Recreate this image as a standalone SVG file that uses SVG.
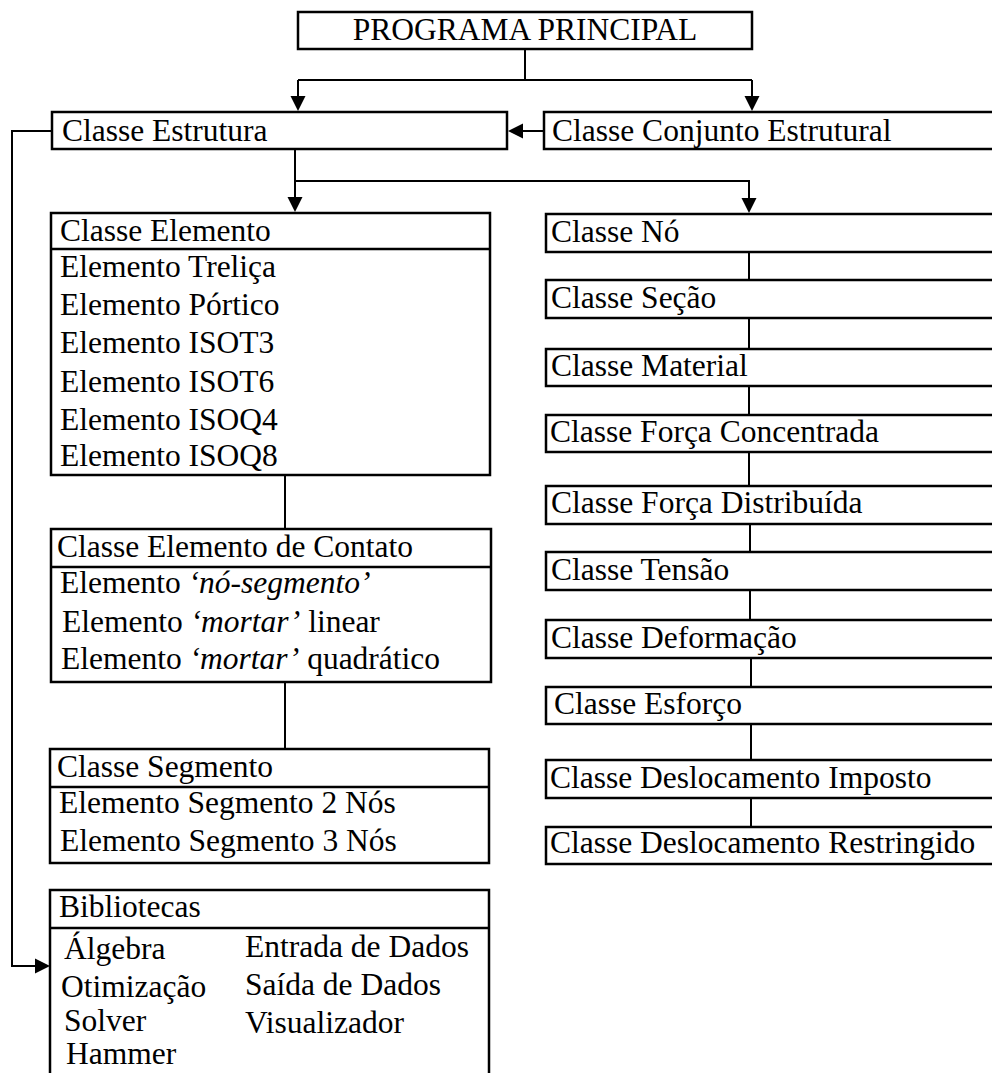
<svg xmlns="http://www.w3.org/2000/svg" width="992" height="1073" viewBox="0 0 992 1073">
<style>
.box{fill:#fff;stroke:#000;stroke-width:2.5}
.div{stroke:#000;stroke-width:2.5}
.ln{fill:none;stroke:#000;stroke-width:2}
.ah{fill:#000;stroke:none}
text{font-family:"Liberation Serif","Times New Roman",serif;font-size:31.5px;fill:#000}
.it{font-style:italic}
</style>
<defs>
<path id="ahd" class="ah" d="M-7.5,-15 L7.5,-15 L0,0 Z"/>
</defs>
<rect width="992" height="1073" fill="#fff"/>
<g id="connectors">
<path class="ln" d="M525,49 V80"/>
<path class="ln" d="M298,80 H752"/>
<path class="ln" d="M298,80 V100"/>
<use href="#ahd" transform="translate(298,111)"/>
<path class="ln" d="M752,80 V100"/>
<use href="#ahd" transform="translate(752,111)"/>
<path class="ln" d="M544,131 H520"/>
<use href="#ahd" transform="translate(508,131) rotate(90)"/>
<path class="ln" d="M52,131 H12 V966 H38"/>
<use href="#ahd" transform="translate(50,966) rotate(-90)"/>
<path class="ln" d="M295,149 V200"/>
<use href="#ahd" transform="translate(295,212)"/>
<path class="ln" d="M295,181 H749 V200"/>
<use href="#ahd" transform="translate(749,213)"/>
<path class="ln" d="M285,475 V529"/>
<path class="ln" d="M285,682 V749"/>
<path class="ln" d="M749,252 V280 M749,318 V349 M749,386 V415 M749,452 V486 M750,524 V552 M750,590 V620 M751,658 V687 M751,724 V760 M751,798 V827"/>
</g>
<g id="programa"><rect class="box" x="298" y="12" width="454" height="37"/><text x="525" y="40" text-anchor="middle">PROGRAMA PRINCIPAL</text></g>
<g id="estrutura"><rect class="box" x="52" y="112" width="455" height="37"/><text x="62" y="141">Classe Estrutura</text></g>
<g id="conjunto"><rect class="box" x="544" y="112" width="460" height="37"/><text x="552" y="141">Classe Conjunto Estrutural</text></g>
<g id="elemento">
<rect class="box" x="51" y="213" width="439" height="262"/><line class="div" x1="51" y1="249" x2="490" y2="249"/>
<text x="60" y="241">Classe Elemento</text>
<text x="60" y="277">Elemento Treliça</text>
<text x="60" y="315">Elemento Pórtico</text>
<text x="60" y="353">Elemento ISOT3</text>
<text x="60" y="392">Elemento ISOT6</text>
<text x="60" y="430">Elemento ISOQ4</text>
<text x="60" y="466">Elemento ISOQ8</text>
</g>
<g id="contato">
<rect class="box" x="51" y="529" width="440" height="153"/><line class="div" x1="51" y1="567" x2="491" y2="567"/>
<text x="57" y="557">Classe Elemento de Contato</text>
<text x="60" y="593">Elemento <tspan class="it">‘nó-segmento’</tspan></text>
<text x="62" y="632">Elemento <tspan class="it">‘mortar’</tspan> linear</text>
<text x="61" y="669">Elemento <tspan class="it">‘mortar’</tspan> quadrático</text>
</g>
<g id="segmento">
<rect class="box" x="50" y="749" width="439" height="114"/><line class="div" x1="50" y1="787" x2="489" y2="787"/>
<text x="57" y="777">Classe Segmento</text>
<text x="59" y="813">Elemento Segmento 2 Nós</text>
<text x="60" y="851">Elemento Segmento 3 Nós</text>
</g>
<g id="bibliotecas">
<rect class="box" x="50" y="890" width="439" height="200"/><line class="div" x1="50" y1="928" x2="489" y2="928"/>
<text x="59" y="917">Bibliotecas</text>
<text x="64" y="959">Álgebra</text>
<text x="61" y="997">Otimização</text>
<text x="64" y="1031">Solver</text>
<text x="66" y="1064">Hammer</text>
<text x="245" y="957">Entrada de Dados</text>
<text x="245" y="995">Saída de Dados</text>
<text x="245" y="1033">Visualizador</text>
</g>
<g id="no"><rect class="box" x="546" y="214" width="460" height="38"/><text x="551" y="242">Classe Nó</text></g>
<g id="secao"><rect class="box" x="546" y="280" width="460" height="38"/><text x="551" y="308">Classe Seção</text></g>
<g id="material"><rect class="box" x="546" y="349" width="460" height="37"/><text x="551" y="376">Classe Material</text></g>
<g id="forca-conc"><rect class="box" x="546" y="415" width="460" height="37"/><text x="550" y="442">Classe Força Concentrada</text></g>
<g id="forca-dist"><rect class="box" x="546" y="486" width="460" height="38"/><text x="551" y="513">Classe Força Distribuída</text></g>
<g id="tensao"><rect class="box" x="546" y="552" width="460" height="38"/><text x="551" y="580">Classe Tensão</text></g>
<g id="deformacao"><rect class="box" x="546" y="620" width="460" height="38"/><text x="551" y="648">Classe Deformação</text></g>
<g id="esforco"><rect class="box" x="546" y="687" width="460" height="37"/><text x="554" y="714">Classe Esforço</text></g>
<g id="desl-imposto"><rect class="box" x="546" y="760" width="460" height="38"/><text x="550" y="788">Classe Deslocamento Imposto</text></g>
<g id="desl-restr"><rect class="box" x="546" y="827" width="460" height="37"/><text x="550" y="853">Classe Deslocamento Restringido</text></g>
</svg>
